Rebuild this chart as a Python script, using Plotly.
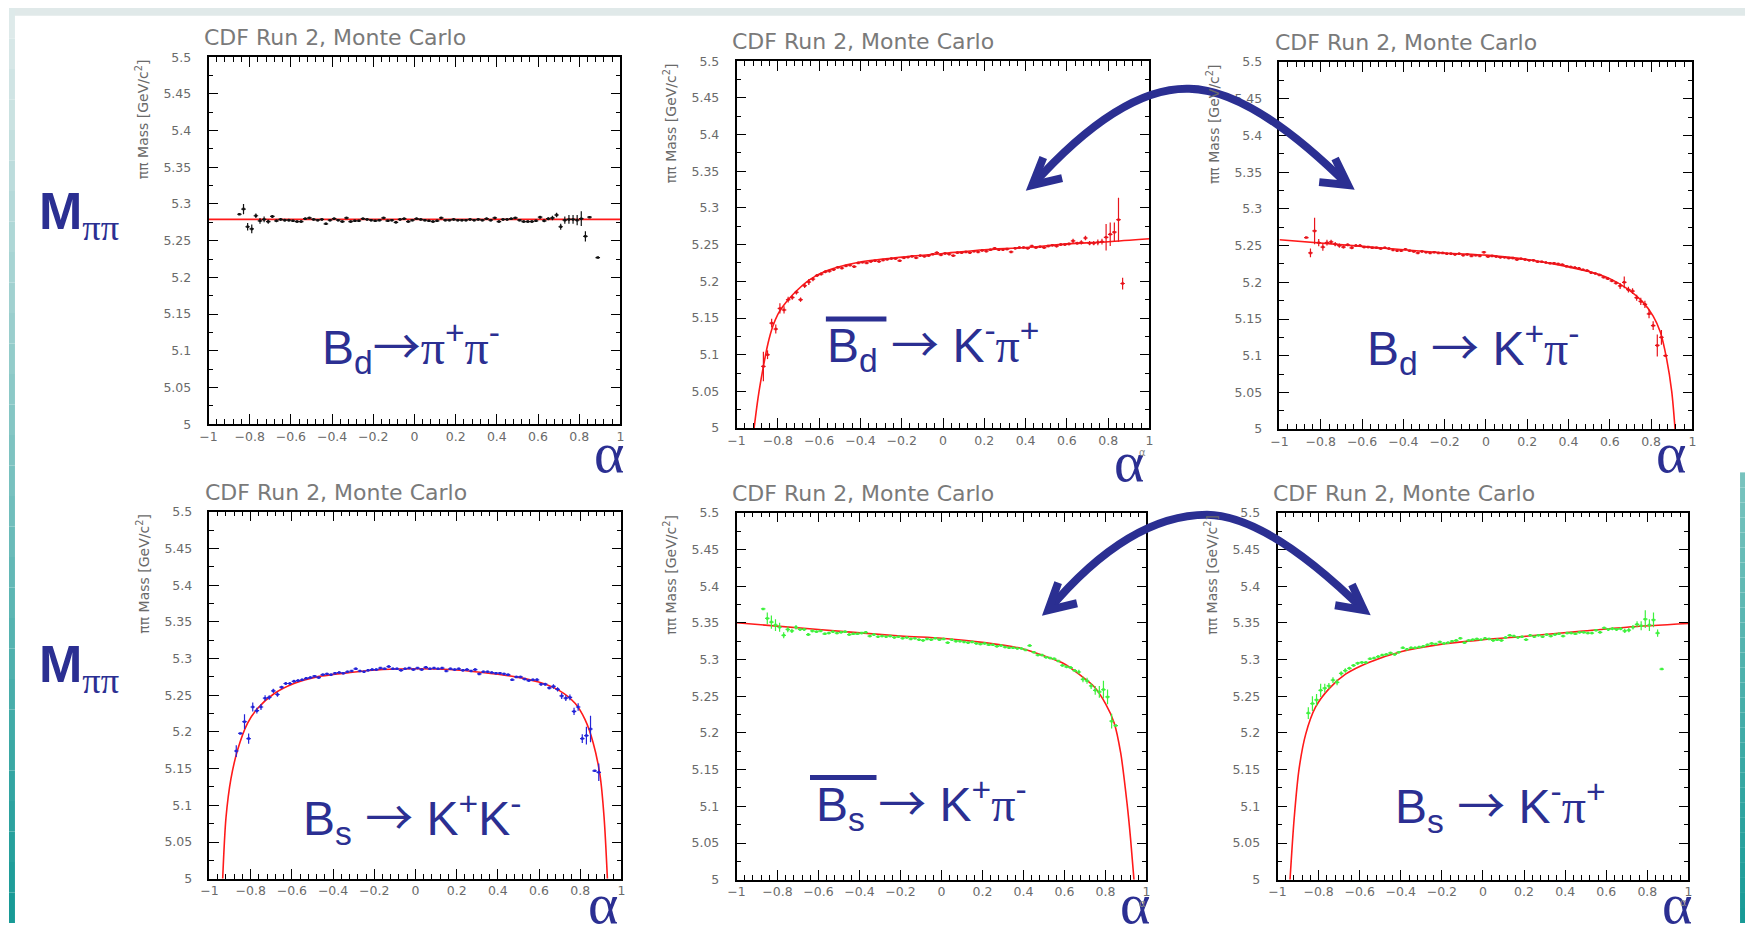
import plotly.graph_objects as go

W, H = 1749, 930

# ---------------- data ----------------
ALPHA = [
    -0.87, -0.85, -0.83, -0.81, -0.79, -0.77, -0.75, -0.73, -0.71, -0.69,
    -0.67, -0.65, -0.63, -0.61, -0.59, -0.57, -0.55, -0.53, -0.51, -0.49,
    -0.47, -0.45, -0.43, -0.41, -0.39, -0.37, -0.35, -0.33, -0.31, -0.29,
    -0.27, -0.25, -0.23, -0.21, -0.19, -0.17, -0.15, -0.13, -0.11, -0.09,
    -0.07, -0.05, -0.03, -0.01, 0.01, 0.03, 0.05, 0.07, 0.09, 0.11,
    0.13, 0.15, 0.17, 0.19, 0.21, 0.23, 0.25, 0.27, 0.29, 0.31,
    0.33, 0.35, 0.37, 0.39, 0.41, 0.43, 0.45, 0.47, 0.49, 0.51,
    0.53, 0.55, 0.57, 0.59, 0.61, 0.63, 0.65, 0.67, 0.69, 0.71,
    0.73, 0.75, 0.77, 0.79, 0.81, 0.83, 0.85, 0.87, 0.89,
]

X_TICKS = [-1, -0.8, -0.6, -0.4, -0.2, 0, 0.2, 0.4, 0.6, 0.8, 1]
X_TICK_TEXT = ["\u22121", "\u22120.8", "\u22120.6", "\u22120.4", "\u22120.2", "0",
               "0.2", "0.4", "0.6", "0.8", "1"]
Y_TICKS = [5, 5.05, 5.1, 5.15, 5.2, 5.25, 5.3, 5.35, 5.4, 5.45, 5.5]
Y_TICK_TEXT = ["5", "5.05", "5.1", "5.15", "5.2", "5.25", "5.3", "5.35", "5.4", "5.45", "5.5"]

# Bd -> pi+ pi-  (black)
BD_PIPI_MASS = [
    None, 5.286, 5.293, 5.269, 5.266, 5.284, 5.277, 5.279, 5.276, 5.283,
    5.277, 5.279, 5.278, 5.278, 5.277, 5.276, 5.276, 5.280, 5.281, 5.279,
    5.278, 5.279, 5.273, 5.278, 5.280, 5.278, 5.276, 5.281, 5.276, 5.277,
    5.277, 5.280, 5.279, 5.278, 5.277, 5.278, 5.281, 5.277, 5.278, 5.275,
    5.279, 5.280, 5.276, 5.278, 5.280, 5.279, 5.278, 5.277, 5.276, 5.277,
    5.281, 5.278, 5.278, 5.279, 5.278, 5.278, 5.278, 5.279, 5.278, 5.279,
    5.278, 5.280, 5.278, 5.281, 5.276, 5.279, 5.279, 5.280, 5.281, 5.278,
    5.276, 5.276, 5.276, 5.277, 5.282, 5.277, 5.280, 5.281, 5.285, 5.269,
    5.278, 5.279, 5.279, 5.278, 5.280, 5.256, 5.282, None, 5.227,
]
BD_PIPI_ERR = [
    0, 0, 0.007, 0.005, 0.006, 0.003, 0.004, 0.004, 0.003, 0.002,
    0.002, 0.002, 0.002, 0.002, 0.0015, 0.0015, 0.0015, 0.0015, 0.0015, 0.0015,
    0.0015, 0.0015, 0.0015, 0.0015, 0.0015, 0.0015, 0.0015, 0.0015, 0.0015, 0.0015,
    0.0015, 0.0015, 0.0015, 0.0015, 0.0015, 0.0015, 0.0015, 0.0015, 0.0015, 0.0015,
    0.0015, 0.0015, 0.0015, 0.0015, 0.0015, 0.0015, 0.0015, 0.0015, 0.0015, 0.0015,
    0.0015, 0.0015, 0.0015, 0.0015, 0.0015, 0.0015, 0.0015, 0.0015, 0.0015, 0.0015,
    0.0015, 0.0015, 0.0015, 0.0015, 0.0015, 0.0015, 0.0015, 0.0015, 0.0015, 0.0015,
    0.0015, 0.0015, 0.0015, 0.0015, 0.002, 0.002, 0.002, 0.003, 0.003, 0.004,
    0.005, 0.006, 0.006, 0.007, 0.010, 0.007, 0, 0, 0,
]
BD_PIPI_FIT_ALPHA = [-1.0, 1.0]
BD_PIPI_FIT_MASS = [5.279, 5.279]

# Bd-bar -> K- pi+  (red)
BDBAR_KPI_MASS = [
    5.084, 5.100, 5.143, 5.135, 5.163, 5.161, 5.175, 5.178, 5.185, 5.175,
    5.194, 5.199, 5.203, 5.208, 5.210, 5.213, 5.214, 5.216, 5.219, 5.218,
    5.221, 5.222, 5.220, 5.225, 5.226, 5.225, 5.227, 5.228, 5.227, 5.229,
    5.230, 5.231, 5.231, 5.228, 5.232, 5.233, 5.234, 5.232, 5.235, 5.234,
    5.235, 5.237, 5.239, 5.236, 5.238, 5.237, 5.235, 5.239, 5.239, 5.240,
    5.239, 5.241, 5.240, 5.242, 5.241, 5.243, 5.245, 5.243, 5.243, 5.244,
    5.240, 5.245, 5.246, 5.246, 5.245, 5.248, 5.246, 5.247, 5.246, 5.248,
    5.249, 5.248, 5.250, 5.250, 5.251, 5.255, 5.252, 5.253, 5.259, 5.252,
    5.252, 5.253, 5.254, 5.260, 5.264, 5.267, 5.284, 5.197, None,
]
BDBAR_KPI_ERR = [
    0.020, 0.006, 0.006, 0.006, 0.007, 0.005, 0.004, 0.003, 0.003, 0.003,
    0.003, 0.004, 0.003, 0.002, 0.002, 0.002, 0.002, 0.002, 0.0015, 0.0015,
    0.0015, 0.0015, 0.0015, 0.0015, 0.0015, 0.0015, 0.0015, 0.0015, 0.0015, 0.0015,
    0.0015, 0.0015, 0.0015, 0.0015, 0.0015, 0.0015, 0.0015, 0.0015, 0.0015, 0.0015,
    0.0015, 0.0015, 0.0015, 0.0015, 0.0015, 0.0015, 0.0015, 0.0015, 0.0015, 0.0015,
    0.0015, 0.0015, 0.0015, 0.0015, 0.0015, 0.0015, 0.0015, 0.0015, 0.0015, 0.0015,
    0.0015, 0.0015, 0.0015, 0.0015, 0.0015, 0.0015, 0.0015, 0.0015, 0.0015, 0.0015,
    0.0015, 0.002, 0.002, 0.002, 0.002, 0.003, 0.002, 0.003, 0.003, 0.003,
    0.003, 0.004, 0.004, 0.018, 0.016, 0.013, 0.030, 0.008, 0,
]
BDBAR_KPI_FIT_ALPHA = [-0.915, -0.896, -0.872, -0.848, -0.824, -0.800, -0.775, -0.727,
                       -0.647, -0.567, -0.407, -0.198, 0.0, 0.2, 0.4, 0.6, 0.8, 1.0]
BDBAR_KPI_FIT_MASS = [5.000, 5.041, 5.081, 5.115, 5.139, 5.155, 5.166, 5.182,
                      5.202, 5.214, 5.226, 5.233, 5.238, 5.243, 5.246, 5.251, 5.254, 5.258]

# Bd -> K+ pi-  (red)
BD_KPI_MASS = [
    5.261, 5.240, 5.270, 5.254, 5.248, 5.254, 5.255, 5.252, 5.250, 5.248,
    5.251, 5.247, 5.250, 5.250, 5.248, 5.248, 5.247, 5.247, 5.246, 5.247,
    5.246, 5.244, 5.243, 5.243, 5.245, 5.243, 5.242, 5.240, 5.242, 5.241,
    5.240, 5.241, 5.240, 5.240, 5.239, 5.239, 5.238, 5.239, 5.237, 5.238,
    5.236, 5.237, 5.236, 5.241, 5.235, 5.236, 5.235, 5.234, 5.234, 5.233,
    5.233, 5.231, 5.232, 5.231, 5.230, 5.230, 5.228, 5.228, 5.227, 5.226,
    5.226, 5.225, 5.224, 5.222, 5.221, 5.220, 5.219, 5.217, 5.216, 5.213,
    5.212, 5.210, 5.207, 5.205, 5.202, 5.199, 5.195, 5.200, 5.190, 5.188,
    5.179, 5.174, 5.170, 5.157, 5.141, 5.114, 5.125, 5.100, None,
]
BD_KPI_ERR = [
    0, 0.006, 0.018, 0.005, 0.005, 0.004, 0.003, 0.003, 0.003, 0.002,
    0.002, 0.002, 0.002, 0.002, 0.0015, 0.0015, 0.0015, 0.0015, 0.0015, 0.0015,
    0.0015, 0.0015, 0.0015, 0.0015, 0.0015, 0.0015, 0.0015, 0.0015, 0.0015, 0.0015,
    0.0015, 0.0015, 0.0015, 0.0015, 0.0015, 0.0015, 0.0015, 0.0015, 0.0015, 0.0015,
    0.0015, 0.0015, 0.0015, 0.0015, 0.0015, 0.0015, 0.0015, 0.0015, 0.0015, 0.0015,
    0.0015, 0.0015, 0.0015, 0.0015, 0.0015, 0.0015, 0.0015, 0.0015, 0.0015, 0.0015,
    0.0015, 0.0015, 0.0015, 0.0015, 0.0015, 0.0015, 0.0015, 0.0015, 0.0015, 0.0015,
    0.0015, 0.0015, 0.0015, 0.002, 0.002, 0.002, 0.004, 0.008, 0.004, 0.004,
    0.004, 0.005, 0.005, 0.006, 0.006, 0.015, 0.010, 0, 0,
]
BD_KPI_FIT_ALPHA = [-1.0, -0.6, -0.2, 0.0, 0.2, 0.4, 0.52, 0.6, 0.68, 0.76,
                    0.81, 0.845, 0.875, 0.9, 0.916]
BD_KPI_FIT_MASS = [5.258, 5.249, 5.240, 5.237, 5.231, 5.221, 5.213, 5.205, 5.192, 5.173,
                   5.154, 5.132, 5.096, 5.051, 5.000]

# Bs -> K+ K-  (blue)
BS_KK_MASS = [
    5.174, 5.198, 5.214, 5.191, 5.234, 5.229, 5.234, 5.246, 5.247, 5.256,
    5.251, 5.261, 5.266, 5.266, 5.269, 5.270, 5.271, 5.273, 5.274, 5.276,
    5.274, 5.278, 5.279, 5.278, 5.280, 5.281, 5.280, 5.282, 5.283, 5.286,
    5.283, 5.282, 5.284, 5.285, 5.285, 5.287, 5.286, 5.289, 5.286, 5.286,
    5.284, 5.286, 5.287, 5.285, 5.287, 5.285, 5.288, 5.286, 5.287, 5.286,
    5.287, 5.283, 5.286, 5.285, 5.286, 5.284, 5.285, 5.283, 5.285, 5.279,
    5.282, 5.282, 5.281, 5.280, 5.280, 5.279, 5.278, 5.271, 5.275, 5.275,
    5.272, 5.270, 5.271, 5.271, 5.265, 5.265, 5.260, 5.262, 5.258, 5.249,
    5.246, 5.247, 5.228, 5.234, 5.191, 5.195, 5.204, 5.147, 5.145,
]
BS_KK_ERR = [
    0.008, 0, 0.010, 0.007, 0.006, 0.004, 0.004, 0.004, 0.003, 0.003,
    0.003, 0.002, 0.002, 0.002, 0.002, 0.0015, 0.0015, 0.0015, 0.0015, 0.0015,
    0.0015, 0.0015, 0.0015, 0.0015, 0.0015, 0.0015, 0.0015, 0.0015, 0.0015, 0.0015,
    0.0015, 0.0015, 0.0015, 0.0015, 0.0015, 0.0015, 0.0015, 0.0015, 0.0015, 0.0015,
    0.0015, 0.0015, 0.0015, 0.0015, 0.0015, 0.0015, 0.0015, 0.0015, 0.0015, 0.0015,
    0.0015, 0.0015, 0.0015, 0.0015, 0.0015, 0.0015, 0.0015, 0.0015, 0.0015, 0.0015,
    0.0015, 0.0015, 0.0015, 0.0015, 0.0015, 0.0015, 0.0015, 0.0015, 0.0015, 0.0015,
    0.0015, 0.0015, 0.0015, 0.002, 0.002, 0.002, 0.002, 0.003, 0.003, 0.004,
    0.004, 0.004, 0.005, 0.005, 0.006, 0.012, 0.018, 0, 0.012,
]
BS_KK_FIT_ALPHA = [-0.936, -0.920, -0.896, -0.863, -0.815, -0.767, -0.687, -0.590, -0.478,
                   -0.317, -0.157, 0.0, 0.165, 0.325, 0.486, 0.598, 0.695, 0.775, 0.823,
                   0.863, 0.896, 0.916, 0.932]
BS_KK_FIT_MASS = [5.000, 5.083, 5.136, 5.176, 5.212, 5.232, 5.252, 5.266, 5.275,
                  5.281, 5.285, 5.286, 5.285, 5.281, 5.275, 5.268, 5.257, 5.239, 5.217,
                  5.185, 5.141, 5.083, 5.000]

# Bs-bar -> K+ pi-  (green)
BSBAR_KPI_MASS = [
    5.369, 5.356, 5.351, 5.347, 5.344, 5.333, 5.341, 5.339, 5.344, 5.341,
    5.341, 5.334, 5.339, 5.338, 5.339, 5.335, 5.336, 5.338, 5.336, 5.337,
    5.338, 5.334, 5.335, 5.335, 5.336, 5.337, 5.332, 5.334, 5.331, 5.332,
    5.331, 5.332, 5.330, 5.331, 5.329, 5.330, 5.328, 5.329, 5.327, 5.326,
    5.328, 5.327, 5.329, 5.327, 5.328, 5.323, 5.327, 5.325, 5.325, 5.324,
    5.323, 5.324, 5.322, 5.321, 5.322, 5.320, 5.320, 5.318, 5.319, 5.317,
    5.316, 5.316, 5.315, 5.315, 5.313, 5.319, 5.310, 5.306, 5.306, 5.303,
    5.302, 5.301, 5.298, 5.292, 5.290, 5.289, 5.285, 5.283, 5.273, 5.271,
    5.264, 5.258, 5.256, 5.259, 5.249, 5.216, 5.210, None, None,
]
BSBAR_KPI_ERR = [
    0, 0.008, 0.009, 0.008, 0.006, 0.004, 0.004, 0.003, 0.003, 0.002,
    0.002, 0.002, 0.002, 0.0015, 0.0015, 0.0015, 0.0015, 0.0015, 0.0015, 0.0015,
    0.0015, 0.0015, 0.0015, 0.0015, 0.0015, 0.0015, 0.0015, 0.0015, 0.0015, 0.0015,
    0.0015, 0.0015, 0.0015, 0.0015, 0.0015, 0.0015, 0.0015, 0.0015, 0.0015, 0.0015,
    0.0015, 0.0015, 0.0015, 0.0015, 0.0015, 0.0015, 0.0015, 0.0015, 0.0015, 0.0015,
    0.0015, 0.0015, 0.0015, 0.0015, 0.0015, 0.0015, 0.0015, 0.0015, 0.0015, 0.0015,
    0.0015, 0.0015, 0.0015, 0.0015, 0.0015, 0.0015, 0.0015, 0.0015, 0.0015, 0.0015,
    0.0015, 0.0015, 0.0015, 0.0015, 0.002, 0.002, 0.002, 0.003, 0.004, 0.004,
    0.004, 0.006, 0.008, 0.012, 0.010, 0.010, 0, 0, 0,
]
BSBAR_KPI_FIT_ALPHA = [-1.0, -0.6, -0.2, 0.0, 0.21, 0.39, 0.5, 0.6, 0.68, 0.745,
                       0.8, 0.842, 0.874, 0.906, 0.922, 0.939]
BSBAR_KPI_FIT_MASS = [5.350, 5.341, 5.332, 5.329, 5.323, 5.315, 5.305, 5.294, 5.278, 5.263,
                      5.240, 5.214, 5.173, 5.102, 5.057, 5.000]

# Bs -> K- pi+  (green)
BS_KPI_MASS = [
    None, 5.227, 5.240, 5.245, 5.258, 5.261, 5.264, 5.272, 5.269, 5.281,
    5.285, 5.288, 5.292, 5.295, 5.296, 5.296, 5.301, 5.302, 5.304, 5.306,
    5.307, 5.309, 5.307, 5.310, 5.316, 5.314, 5.316, 5.316, 5.317, 5.318,
    5.320, 5.322, 5.321, 5.324, 5.322, 5.323, 5.325, 5.326, 5.329, 5.323,
    5.326, 5.327, 5.328, 5.327, 5.329, 5.328, 5.326, 5.327, 5.326, 5.330,
    5.333, 5.332, 5.330, 5.331, 5.327, 5.333, 5.331, 5.333, 5.331, 5.334,
    5.332, 5.334, 5.335, 5.332, 5.336, 5.336, 5.335, 5.337, 5.337, 5.336,
    5.336, 5.340, 5.337, 5.343, 5.341, 5.342, 5.341, 5.342, 5.339, 5.340,
    5.344, 5.348, 5.346, 5.355, 5.347, 5.354, 5.336, 5.287, None,
]
BS_KPI_ERR = [
    0, 0.008, 0.010, 0.008, 0.009, 0.006, 0.004, 0.004, 0.004, 0.003,
    0.003, 0.002, 0.002, 0.002, 0.0015, 0.0015, 0.0015, 0.0015, 0.0015, 0.0015,
    0.0015, 0.0015, 0.0015, 0.0015, 0.0015, 0.0015, 0.0015, 0.0015, 0.0015, 0.0015,
    0.0015, 0.0015, 0.0015, 0.0015, 0.0015, 0.0015, 0.0015, 0.0015, 0.0015, 0.0015,
    0.0015, 0.0015, 0.0015, 0.0015, 0.0015, 0.0015, 0.0015, 0.0015, 0.0015, 0.0015,
    0.0015, 0.0015, 0.0015, 0.0015, 0.0015, 0.0015, 0.0015, 0.0015, 0.0015, 0.0015,
    0.0015, 0.0015, 0.0015, 0.0015, 0.0015, 0.0015, 0.0015, 0.0015, 0.0015, 0.0015,
    0.0015, 0.0015, 0.0015, 0.0015, 0.002, 0.002, 0.002, 0.002, 0.003, 0.003,
    0.003, 0.004, 0.006, 0.012, 0.008, 0.010, 0.005, 0, 0,
]
BS_KPI_FIT_ALPHA = [-0.939, -0.919, -0.895, -0.863, -0.815, -0.75, -0.669, -0.556, -0.395,
                    -0.2, 0.0, 0.22, 0.46, 0.7, 1.0]
BS_KPI_FIT_MASS = [5.000, 5.083, 5.151, 5.198, 5.235, 5.260, 5.280, 5.296, 5.311,
                   5.321, 5.327, 5.332, 5.338, 5.344, 5.349]

PI = '<span style="font-family:\'Liberation Serif\'">\u03c0</span>'
ARR = '<span style="font-family:\'Noto Sans CJK JP\'">\u2192</span>'
CHANNEL_LABELS = [
    f"B<sub>d</sub>{ARR}{PI}<sup>+</sup>{PI}<sup>-</sup>",
    f"B<sub>d</sub> {ARR} K<sup>-</sup>{PI}<sup>+</sup>",
    f"B<sub>d</sub> {ARR} K<sup>+</sup>{PI}<sup>-</sup>",
    f"B<sub>s</sub> {ARR} K<sup>+</sup>K<sup>-</sup>",
    f"B<sub>s</sub> {ARR} K<sup>+</sup>{PI}<sup>-</sup>",
    f"B<sub>s</sub> {ARR} K<sup>-</sup>{PI}<sup>+</sup>",
]
TITLE = "CDF Run 2, Monte Carlo"
YTITLE = "\u03c0\u03c0 Mass [GeV/c<sup>2</sup>]"

# ---------------- layout geometry (pixels) ----------------
BOXES = [  # left, right, top, bottom
    (201, 616, 50, 423),
    (733, 1149, 54, 427),
    (1280, 1696, 55, 428),
    (202, 617, 512, 885),
    (733, 1146, 513, 886),
    (1278, 1692, 513, 886),
]
PANEL_DATA = [
    (BD_PIPI_MASS, BD_PIPI_ERR, BD_PIPI_FIT_ALPHA, BD_PIPI_FIT_MASS, "#111111"),
    (BDBAR_KPI_MASS, BDBAR_KPI_ERR, BDBAR_KPI_FIT_ALPHA, BDBAR_KPI_FIT_MASS, "#e8141b"),
    (BD_KPI_MASS, BD_KPI_ERR, BD_KPI_FIT_ALPHA, BD_KPI_FIT_MASS, "#e8141b"),
    (BS_KK_MASS, BS_KK_ERR, BS_KK_FIT_ALPHA, BS_KK_FIT_MASS, "#2424d8"),
    (BSBAR_KPI_MASS, BSBAR_KPI_ERR, BSBAR_KPI_FIT_ALPHA, BSBAR_KPI_FIT_MASS, "#3df23d"),
    (BS_KPI_MASS, BS_KPI_ERR, BS_KPI_FIT_ALPHA, BS_KPI_FIT_MASS, "#3df23d"),
]
LABEL_POS = [(313, 342), (822, 340), (1366, 343), (294, 821), (811, 806), (1394, 809)]
OVERLINES = [(823, 884, 316), (807, 874, 782)]
ALPHA_POS = [(604, 452), (1128, 461), (1674, 452), (598, 910), (1134, 910), (1680, 910)]
SMALL_ALPHA_POS = [(1142, 452), (1142, 910), (1687, 909)]
M_POS = [(28, 210), (28, 671)]

BLUE = "#2b2f92"
GRAY_TXT = "#6a6a6a"


def fx(x):
    return x / W


def fy(y):
    return 1 - y / H


fig = go.Figure()
annotations = []
shapes = []

for i, (box, pdata) in enumerate(zip(BOXES, PANEL_DATA)):
    l, r, t, b = box
    mass, err, fit_a, fit_m, col = pdata
    n = "" if i == 0 else str(i + 1)
    xa, ya = "x" + n, "y" + n
    fig.add_trace(go.Scatter(
        x=fit_a, y=fit_m, mode="lines", xaxis=xa, yaxis=ya,
        line=dict(color="#ff1a1a", width=1.6, shape="spline", smoothing=0.8),
        hoverinfo="skip", showlegend=False))
    fig.add_trace(go.Scatter(
        x=ALPHA, y=mass, mode="markers", xaxis=xa, yaxis=ya,
        marker=dict(color=col, size=2.5, symbol="square"),
        error_y=dict(type="data", array=err, color=col, thickness=1.2, width=0),
        error_x=dict(type="constant", value=0.011, color=col, thickness=1.2, width=0),
        showlegend=False))
    axcommon = dict(showgrid=False, zeroline=False, showline=True, linecolor="black",
                    linewidth=1.5, mirror="ticks", ticks="inside", ticklen=10,
                    tickwidth=1.2, tickcolor="black",
                    tickfont=dict(family="DejaVu Sans", size=12.5, color=GRAY_TXT))
    fig.update_layout(**{
        "xaxis" + n: dict(axcommon, domain=[fx(l), fx(r)], range=[-1, 1], anchor=ya,
                          tickmode="array", tickvals=X_TICKS, ticktext=X_TICK_TEXT,
                          minor=dict(ticks="inside", ticklen=5, tickwidth=1, tickcolor="black",
                                     tickmode="linear", tick0=-1, dtick=0.04)),
        "yaxis" + n: dict(axcommon, domain=[fy(b), fy(t)], range=[5, 5.5], anchor=xa,
                          tickmode="array", tickvals=Y_TICKS, ticktext=Y_TICK_TEXT,
                          ticklabelstandoff=13,
                          minor=dict(ticks="inside", ticklen=5, tickwidth=1, tickcolor="black",
                                     tickmode="linear", tick0=5, dtick=0.025)),
    })
    # title above each frame
    annotations.append(dict(text=TITLE, x=fx(l - 7), y=fy(t - 5), xref="paper", yref="paper",
                            xanchor="left", yanchor="bottom", showarrow=False,
                            font=dict(family="DejaVu Sans", size=22, color="#7a7a7a")))
    # rotated y-axis title
    annotations.append(dict(text=YTITLE, x=fx(l - 67), y=fy(t), xref="paper", yref="paper",
                            xanchor="center", yanchor="top", textangle=-90, showarrow=False,
                            font=dict(family="DejaVu Sans", size=14, color=GRAY_TXT)))
    # channel label
    lx, ly = LABEL_POS[i]
    annotations.append(dict(text=CHANNEL_LABELS[i], x=fx(lx), y=fy(ly), xref="paper", yref="paper",
                            xanchor="left", yanchor="middle", showarrow=False,
                            font=dict(family="Liberation Sans", size=48, color=BLUE)))
    # alpha axis symbol
    ax_, ay_ = ALPHA_POS[i]
    annotations.append(dict(text="\u03b1", x=fx(ax_), y=fy(ay_), xref="paper", yref="paper",
                            xanchor="center", yanchor="middle", showarrow=False,
                            font=dict(family="Liberation Serif", size=58, color=BLUE)))

for sx, sy in SMALL_ALPHA_POS:
    annotations.append(dict(text="\u03b1", x=fx(sx), y=fy(sy), xref="paper", yref="paper",
                            xanchor="center", yanchor="middle", showarrow=False,
                            font=dict(family="DejaVu Sans", size=10, color="#888888")))

for mx, my in M_POS:
    annotations.append(dict(text=f"<b>M</b><sub>{PI}{PI}</sub>",
                            x=fx(mx), y=fy(my), xref="paper", yref="paper",
                            xanchor="left", yanchor="middle", showarrow=False,
                            font=dict(family="Liberation Sans", size=52, color=BLUE)))

for x0, x1, yy in OVERLINES:
    shapes.append(dict(type="line", xref="paper", yref="paper", x0=fx(x0), x1=fx(x1),
                       y0=fy(yy), y1=fy(yy), line=dict(color=BLUE, width=5)))


def P(x, y):
    return f"{fx(x):.5f},{fy(y):.5f}"


ARROWS = [
    # curve: start tip, ctrl, apex, ctrl, end tip ; heads
    ((1031, 180), (1120, 80), (1189, 82), (1252, 83), (1349, 180),
     [(1042, 152), (1031, 180), (1061, 173)], [(1336, 153), (1349, 180), (1320, 177)]),
    ((1047, 612), (1128, 515), (1207, 515), (1268, 516), (1365, 612),
     [(1057, 584), (1047, 612), (1076, 605)], [(1353, 586), (1365, 612), (1336, 607)]),
]
for p0, c1, ap, c2, p1, h1, h2 in ARROWS:
    shapes.append(dict(type="path", xref="paper", yref="paper",
                       path=f"M{P(*p0)} Q{P(*c1)} {P(*ap)} Q{P(*c2)} {P(*p1)}",
                       line=dict(color=BLUE, width=8)))
    for h in (h1, h2):
        shapes.append(dict(type="path", xref="paper", yref="paper",
                           path=f"M{P(*h[0])} L{P(*h[1])} L{P(*h[2])}",
                           line=dict(color=BLUE, width=8)))


def lerp_col(c0, c1, f):
    return "rgb(%d,%d,%d)" % tuple(round(a + (b_ - a) * f) for a, b_ in zip(c0, c1))


# slide decorations: top band, left & right teal gradient strips
shapes.append(dict(type="rect", xref="paper", yref="paper", x0=0, x1=1, y0=fy(8), y1=1,
                   line=dict(width=0), fillcolor="#e0e9e9", layer="below"))
NSEG = 30
for k in range(NSEG):
    y0 = H * k / NSEG
    y1 = H * (k + 1) / NSEG
    shapes.append(dict(type="rect", xref="paper", yref="paper", x0=0, x1=fx(6),
                       y0=fy(y1), y1=fy(y0), line=dict(width=0),
                       fillcolor=lerp_col((222, 234, 234), (24, 154, 150), k / (NSEG - 1)),
                       layer="below"))
for k in range(NSEG):
    y0 = 472 + (H - 472) * k / NSEG
    y1 = 472 + (H - 472) * (k + 1) / NSEG
    shapes.append(dict(type="rect", xref="paper", yref="paper", x0=fx(1744), x1=1,
                       y0=fy(y1), y1=fy(y0), line=dict(width=0),
                       fillcolor=lerp_col((120, 195, 190), (24, 154, 150), k / (NSEG - 1)),
                       layer="below"))

fig.update_layout(width=W, height=H, margin=dict(l=0, r=0, t=0, b=0),
                  paper_bgcolor="white", plot_bgcolor="white",
                  annotations=annotations, shapes=shapes, showlegend=False)

fig.write_html("out.html")
